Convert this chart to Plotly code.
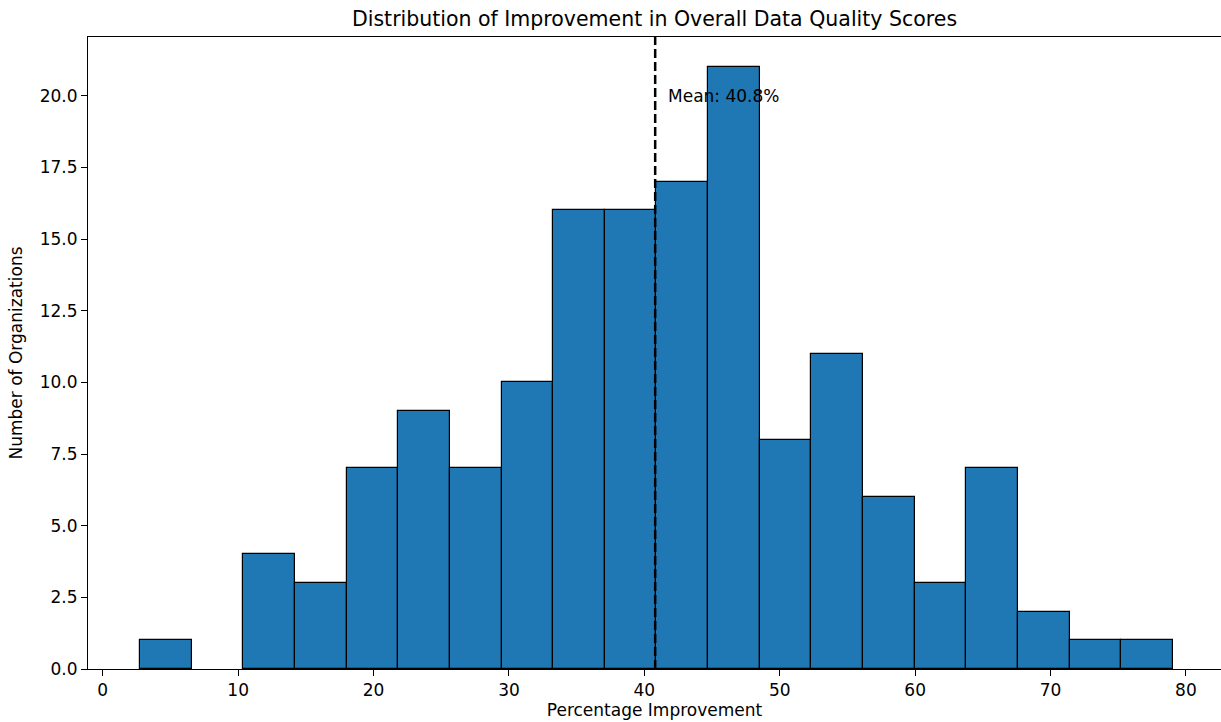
import numpy as np
import plotly.graph_objects as go

# Histogram data
bin_start = 2.755
bin_width = 3.814
counts = [1, 0, 4, 3, 7, 9, 7, 10, 16, 16, 17, 21, 8, 11, 6, 3, 7, 2, 1, 1]
mean_value = 40.8
x_ticks = [0, 10, 20, 30, 40, 50, 60, 70, 80]
y_ticks = [0, 2.5, 5, 7.5, 10, 12.5, 15, 17.5, 20]
x_view = [-1.09, 82.59]   # visible x range (figure is cropped on the right)

edges = bin_start + bin_width * np.arange(len(counts) + 1)
centers = (edges[:-1] + edges[1:]) / 2
y_top = max(counts) * 1.05
outline_widths = [1.2 if c > 0 else 0 for c in counts]

FONT = "DejaVu Sans"

fig = go.Figure()
fig.add_trace(go.Bar(
    x=centers, y=counts, width=bin_width,
    marker=dict(color="#1f77b4", line=dict(color="black", width=outline_widths)),
    showlegend=False, hoverinfo="x+y",
))
fig.add_shape(type="line", x0=mean_value, x1=mean_value, y0=0, y1=1,
              xref="x", yref="paper",
              line=dict(color="black", width=2.5, dash="9px,4px"))
fig.add_annotation(x=mean_value + 0.8, y=20, xref="x", yref="y",
                   text=f"Mean: {mean_value}%", showarrow=False,
                   xanchor="left", yanchor="middle",
                   font=dict(family=FONT, size=17, color="black"))

axis_common = dict(showline=True, linecolor="black", linewidth=1,
                   ticks="outside", ticklen=6, tickcolor="black",
                   showgrid=False, zeroline=False,
                   tickfont=dict(family=FONT, size=17, color="black"))
fig.update_xaxes(range=x_view, tickvals=x_ticks, mirror=True,
                 title=dict(text="Percentage Improvement", standoff=4,
                            font=dict(family=FONT, size=17, color="black")),
                 **axis_common)
fig.update_yaxes(range=[0, y_top], tickvals=y_ticks, mirror=False,
                 ticktext=[f"{v:.1f}" for v in y_ticks],
                 title=dict(text="Number of Organizations", standoff=12,
                            font=dict(family=FONT, size=17, color="black")),
                 **axis_common)
fig.update_layout(
    width=1221, height=722,
    margin=dict(l=88, r=0, t=37, b=53),
    plot_bgcolor="white", paper_bgcolor="white",
    bargap=0,
    title=dict(text="Distribution of Improvement in Overall Data Quality Scores",
               x=0.5, xanchor="center", y=1 - 19 / 722, yanchor="middle",
               xref="paper",
               font=dict(family=FONT, size=20.5, color="black")),
)
fig.write_html("out.html", config={"displayModeBar": False},
               post_script="document.body.style.margin='0';document.body.style.padding='0';")
